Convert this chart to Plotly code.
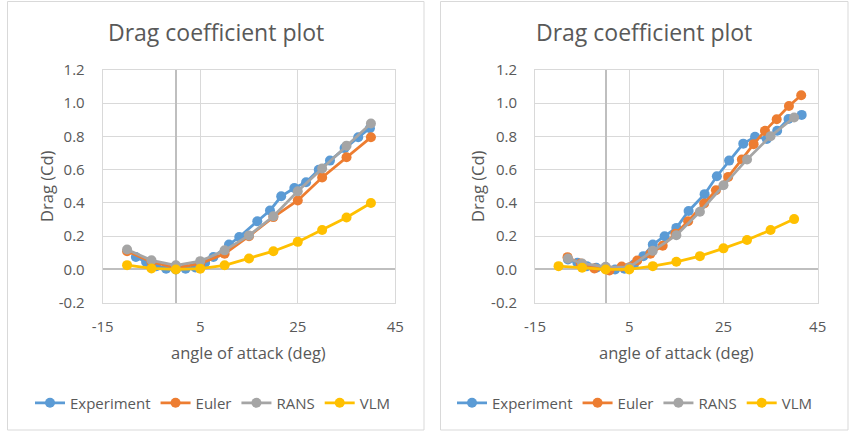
import plotly.graph_objects as go

W, H = 849, 444

# ---------------- data ----------------
series_names = ["Experiment", "Euler", "RANS", "VLM"]
colors = ["#5B9BD5", "#ED7D31", "#A5A5A5", "#FFC000"]

# left panel
exp_L_aoa = [-8.2, -6.1, -4, -2, 0, 2, 4, 6, 7.7, 10.9, 13, 16.7, 19.3, 21.6, 24.3, 26.7, 29.3, 31.6, 34.6, 37.4, 39.8]
exp_L_cd = [0.075, 0.045, 0.02, 0.005, 0.0, 0.005, 0.012, 0.04, 0.075, 0.15, 0.195, 0.29, 0.355, 0.44, 0.49, 0.525, 0.6, 0.655, 0.73, 0.795, 0.85]
eul_L_aoa = [-10, -5, 0, 5, 10, 15, 20, 25, 30, 35, 40]
eul_L_cd = [0.11, 0.045, 0.01, 0.035, 0.095, 0.2, 0.315, 0.415, 0.553, 0.675, 0.795]
rans_L_aoa = [-10, -5, 0, 5, 10, 15, 20, 25, 30, 35, 40]
rans_L_cd = [0.12, 0.055, 0.025, 0.05, 0.115, 0.205, 0.32, 0.47, 0.607, 0.745, 0.878]
vlm_L_aoa = [-10, -5, 0, 5, 10, 15, 20, 25, 30, 35, 40]
vlm_L_cd = [0.026, 0.006, 0.0, 0.005, 0.025, 0.066, 0.11, 0.166, 0.237, 0.313, 0.40]

# right panel
exp_R_aoa = [-8, -6, -4, -2, 0, 2, 4, 6, 8, 10, 12.5, 15, 17.6, 21, 23.6, 26.2, 29.2, 31.7, 34.2, 36.4, 38.8, 41.6]
exp_R_cd = [0.06, 0.04, 0.02, 0.01, 0.005, 0.0, 0.005, 0.03, 0.08, 0.15, 0.2, 0.25, 0.352, 0.453, 0.561, 0.655, 0.757, 0.798, 0.785, 0.835, 0.905, 0.93]
eul_R_aoa = [-8.1, -5.3, -2.4, 0.8, 3.4, 6.7, 9.5, 12.1, 14.8, 17.5, 20.9, 23.4, 26.0, 28.9, 31.4, 33.8, 36.3, 38.9, 41.5]
eul_R_cd = [0.074, 0.036, 0.006, -0.006, 0.018, 0.054, 0.094, 0.143, 0.215, 0.29, 0.397, 0.477, 0.557, 0.662, 0.754, 0.834, 0.904, 0.983, 1.048]
rans_R_aoa = [-8, -5, 0, 5, 10, 15, 20, 25, 30, 35, 40]
rans_R_cd = [0.066, 0.036, 0.016, 0.012, 0.112, 0.206, 0.347, 0.507, 0.662, 0.802, 0.914]
vlm_R_aoa = [-10, -5, 0, 5, 10, 15, 20, 25, 30, 35, 40]
vlm_R_cd = [0.02, 0.01, 0.0, 0.0, 0.02, 0.046, 0.08, 0.127, 0.177, 0.237, 0.303]

x_ticks = [-15, 5, 25, 45]
x_ticktext = ["-15", "5", "25", "45"]
y_ticks = [-0.2, 0.0, 0.2, 0.4, 0.6, 0.8, 1.0, 1.2]
y_ticktext = ["-0.2", "0.0", "0.2", "0.4", "0.6", "0.8", "1.0", "1.2"]

title_text = "Drag coefficient plot"
xtitle_text = "angle of attack (deg)"
ytitle_text = "Drag (Cd)"

FONT = "Open Sans"
TXT = "#595959"
GRID = "#D9D9D9"

def px(x):
    return x / W

def py(y):
    return 1 - y / H

fig = go.Figure()

panels = [
    dict(data=[(exp_L_aoa, exp_L_cd), (eul_L_aoa, eul_L_cd), (rans_L_aoa, rans_L_cd), (vlm_L_aoa, vlm_L_cd)],
         xa="x", ya="y", legend="legend"),
    dict(data=[(exp_R_aoa, exp_R_cd), (eul_R_aoa, eul_R_cd), (rans_R_aoa, rans_R_cd), (vlm_R_aoa, vlm_R_cd)],
         xa="x2", ya="y2", legend="legend2"),
]

for p in panels:
    for (xs, ys), name, col in zip(p["data"], series_names, colors):
        fig.add_trace(go.Scatter(
            x=xs, y=ys, name=name, mode="lines+markers",
            line=dict(color=col, width=2.75),
            marker=dict(color=col, size=10, symbol="circle"),
            xaxis=p["xa"], yaxis=p["ya"], legend=p["legend"],
        ))

def xaxis_cfg(domain, anchor):
    return dict(domain=domain, anchor=anchor, range=[-15, 45], automargin=False,
                tickvals=x_ticks, ticktext=x_ticktext,
                showgrid=True, gridcolor=GRID, gridwidth=1,
                showline=True, linecolor=GRID, linewidth=1, mirror=True,
                zeroline=True, zerolinecolor="#BFBFBF", zerolinewidth=1.5,
                ticks="outside", ticklen=10, tickcolor="rgba(0,0,0,0)",
                tickfont=dict(family=FONT, size=15, color=TXT), fixedrange=True)

def yaxis_cfg(domain, anchor):
    return dict(domain=domain, anchor=anchor, range=[-0.2, 1.2], automargin=False,
                tickvals=y_ticks, ticktext=y_ticktext,
                showgrid=True, gridcolor=GRID, gridwidth=1,
                showline=True, linecolor=GRID, linewidth=1, mirror=True,
                zeroline=True, zerolinecolor="#BFBFBF", zerolinewidth=1.5,
                ticks="outside", ticklen=14, tickcolor="rgba(0,0,0,0)",
                tickfont=dict(family=FONT, size=15, color=TXT), fixedrange=True)

ydom = [py(302.7), py(70)]
fig.update_layout(
    xaxis=xaxis_cfg([px(102.7), px(395.3)], "y"),
    yaxis=yaxis_cfg(ydom, "x"),
    xaxis2=xaxis_cfg([px(535), px(817.7)], "y2"),
    yaxis2=yaxis_cfg(ydom, "x2"),
)

legend_common = dict(orientation="h", yanchor="middle", xanchor="left",
                     font=dict(family=FONT, size=15, color=TXT),
                     bgcolor="rgba(0,0,0,0)", itemclick=False, itemdoubleclick=False,
                     tracegroupgap=0)
fig.update_layout(
    legend=dict(x=px(30), y=py(403), **legend_common),
    legend2=dict(x=px(452), y=py(403), **legend_common),
)

annotations = []
for cx, ytx in [(216.5, 46), (644, 477)]:
    annotations.append(dict(text=title_text, x=px(cx), y=py(32), xref="paper", yref="paper",
                            showarrow=False, xanchor="center", yanchor="middle",
                            font=dict(family=FONT, size=23, color=TXT)))
    annotations.append(dict(text=ytitle_text, x=px(ytx), y=py(187), xref="paper", yref="paper",
                            showarrow=False, xanchor="center", yanchor="middle", textangle=-90,
                            font=dict(family=FONT, size=16.5, color=TXT)))
for cx in [249, 676]:
    annotations.append(dict(text=xtitle_text, x=px(cx), y=py(352), xref="paper", yref="paper",
                            showarrow=False, xanchor="center", yanchor="middle",
                            font=dict(family=FONT, size=16.5, color=TXT)))

shapes = [
    dict(type="rect", xref="paper", yref="paper", x0=px(7.5), x1=px(424), y0=py(430), y1=py(1.5),
         line=dict(color=GRID, width=1), fillcolor="rgba(0,0,0,0)", layer="below"),
    dict(type="rect", xref="paper", yref="paper", x0=px(440.5), x1=px(848), y0=py(430), y1=py(1.5),
         line=dict(color=GRID, width=1), fillcolor="rgba(0,0,0,0)", layer="below"),
]

fig.update_layout(
    width=W, height=H, margin=dict(l=0, r=0, t=0, b=0),
    paper_bgcolor="white", plot_bgcolor="white",
    annotations=annotations, shapes=shapes,
    font=dict(family=FONT, color=TXT),
)

fig.write_html("out.html", config={"displayModeBar": False})
